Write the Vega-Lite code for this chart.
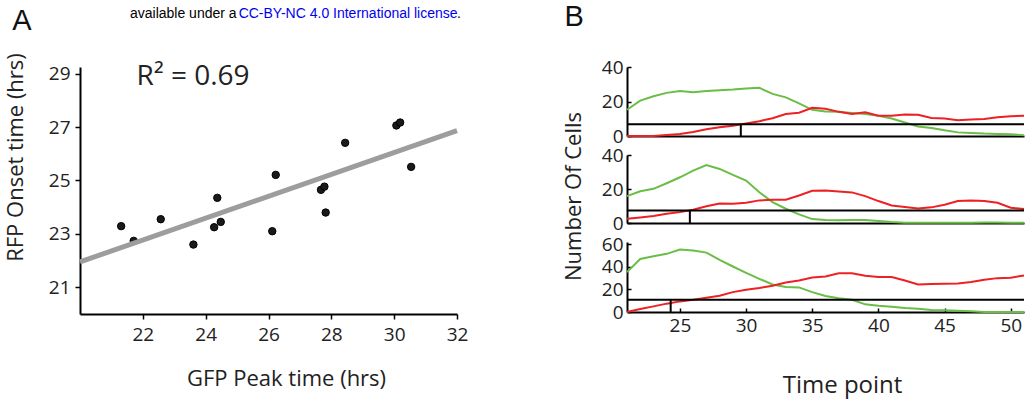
{
  "$schema": "https://vega.github.io/schema/vega-lite/v6.json",
  "autosize": {"type": "none"},
  "padding": {"left": 80, "top": 67, "right": 953, "bottom": 338},
  "background": "white",
  "config": {
    "font": "Open Sans",
    "view": {"stroke": null},
    "axis": {
      "grid": false,
      "domainColor": "#000000",
      "domainWidth": 2,
      "tickColor": "#000000",
      "tickWidth": 1.5,
      "labelColor": "#222222",
      "labelFontSize": 19,
      "labelFont": "Open Sans",
      "titleFont": "Open Sans",
      "titleColor": "#222222",
      "titleFontWeight": "normal",
      "titleFontSize": 22,
      "labelFlush": false,
      "labelOverlap": false
    }
  },
  "datasets": {
    "scatter": [
      {"gfp": 21.31, "rfp": 23.29}, {"gfp": 21.71, "rfp": 22.74}, {"gfp": 22.57, "rfp": 23.55},
      {"gfp": 23.61, "rfp": 22.60}, {"gfp": 24.27, "rfp": 23.25}, {"gfp": 24.37, "rfp": 24.35},
      {"gfp": 24.48, "rfp": 23.45}, {"gfp": 26.12, "rfp": 23.10}, {"gfp": 26.23, "rfp": 25.21},
      {"gfp": 27.67, "rfp": 24.65}, {"gfp": 27.78, "rfp": 24.77}, {"gfp": 27.82, "rfp": 23.80},
      {"gfp": 28.44, "rfp": 26.41}, {"gfp": 30.07, "rfp": 27.06}, {"gfp": 30.19, "rfp": 27.17},
      {"gfp": 30.54, "rfp": 25.51}
    ],
    "fit": [{"gfp": 20, "rfp": 21.95}, {"gfp": 32, "rfp": 26.87}],
    "p1": [
      {"t": 21, "gfp": 15.2, "rfp": 0}, {"t": 22, "gfp": 20.5, "rfp": 0}, {"t": 23, "gfp": 23, "rfp": 0},
      {"t": 24, "gfp": 25, "rfp": 0.6}, {"t": 25, "gfp": 26.1, "rfp": 1.2}, {"t": 26, "gfp": 25.4, "rfp": 2.3},
      {"t": 27, "gfp": 26.1, "rfp": 3.9}, {"t": 28, "gfp": 26.5, "rfp": 5.1}, {"t": 29, "gfp": 26.9, "rfp": 5.9},
      {"t": 30, "gfp": 27.5, "rfp": 7.2}, {"t": 31, "gfp": 27.9, "rfp": 8.6}, {"t": 32, "gfp": 24.4, "rfp": 10.3},
      {"t": 33, "gfp": 22.4, "rfp": 12.7}, {"t": 34, "gfp": 18.9, "rfp": 13.5}, {"t": 35, "gfp": 15.2, "rfp": 16.4},
      {"t": 36, "gfp": 14.2, "rfp": 15.8}, {"t": 37, "gfp": 14, "rfp": 14}, {"t": 38, "gfp": 13.3, "rfp": 12.7},
      {"t": 39, "gfp": 12.7, "rfp": 13.7}, {"t": 40, "gfp": 11.7, "rfp": 11.7}, {"t": 41, "gfp": 10.1, "rfp": 11.7},
      {"t": 42, "gfp": 7.8, "rfp": 12.5}, {"t": 43, "gfp": 5.5, "rfp": 12.3}, {"t": 44, "gfp": 4.7, "rfp": 10.5},
      {"t": 45, "gfp": 3.3, "rfp": 10.1}, {"t": 46, "gfp": 2.1, "rfp": 9.2}, {"t": 47, "gfp": 1.8, "rfp": 9.6},
      {"t": 48, "gfp": 1.4, "rfp": 9.8}, {"t": 49, "gfp": 1.2, "rfp": 10.9}, {"t": 50, "gfp": 1.0, "rfp": 11.5},
      {"t": 51, "gfp": 0.4, "rfp": 11.7}
    ],
    "p2": [
      {"t": 21, "gfp": 15.8, "rfp": 2.5}, {"t": 22, "gfp": 18.7, "rfp": 3.3}, {"t": 23, "gfp": 20.1, "rfp": 4.1},
      {"t": 24, "gfp": 23.4, "rfp": 5.5}, {"t": 25, "gfp": 26.9, "rfp": 6.4}, {"t": 26, "gfp": 30.8, "rfp": 7.8},
      {"t": 27, "gfp": 34.1, "rfp": 9.8}, {"t": 28, "gfp": 31.8, "rfp": 11.5}, {"t": 29, "gfp": 28.3, "rfp": 11.3},
      {"t": 30, "gfp": 25, "rfp": 11.9}, {"t": 31, "gfp": 18.1, "rfp": 13.3}, {"t": 32, "gfp": 12.3, "rfp": 13.7},
      {"t": 33, "gfp": 8.4, "rfp": 13.7}, {"t": 34, "gfp": 5.1, "rfp": 16.2}, {"t": 35, "gfp": 2.3, "rfp": 18.9},
      {"t": 36, "gfp": 1.8, "rfp": 19.1}, {"t": 37, "gfp": 1.6, "rfp": 18.5}, {"t": 38, "gfp": 1.8, "rfp": 18},
      {"t": 39, "gfp": 1.8, "rfp": 15.8}, {"t": 40, "gfp": 1.2, "rfp": 12.9}, {"t": 41, "gfp": 0.6, "rfp": 10.3},
      {"t": 42, "gfp": 0.2, "rfp": 9.4}, {"t": 43, "gfp": 0.2, "rfp": 8.6}, {"t": 44, "gfp": 0.2, "rfp": 9.2},
      {"t": 45, "gfp": 0.2, "rfp": 10.7}, {"t": 46, "gfp": 0.2, "rfp": 12.9}, {"t": 47, "gfp": 0.2, "rfp": 13.3},
      {"t": 48, "gfp": 0.3, "rfp": 12.9}, {"t": 49, "gfp": 0.3, "rfp": 11.9}, {"t": 50, "gfp": 0.2, "rfp": 9},
      {"t": 51, "gfp": 0.2, "rfp": 8.2}
    ],
    "p3": [
      {"t": 21, "gfp": 35.3, "rfp": 0}, {"t": 22, "gfp": 47, "rfp": 2.6}, {"t": 23, "gfp": 49.4, "rfp": 5},
      {"t": 24, "gfp": 51.5, "rfp": 7.4}, {"t": 25, "gfp": 55.3, "rfp": 9.4}, {"t": 26, "gfp": 54.4, "rfp": 10.9},
      {"t": 27, "gfp": 52.6, "rfp": 12.6}, {"t": 28, "gfp": 46.2, "rfp": 14.4}, {"t": 29, "gfp": 40.3, "rfp": 17.6},
      {"t": 30, "gfp": 34.7, "rfp": 19.7}, {"t": 31, "gfp": 29.4, "rfp": 21.2}, {"t": 32, "gfp": 24.4, "rfp": 23.2},
      {"t": 33, "gfp": 22.1, "rfp": 26.2}, {"t": 34, "gfp": 21.8, "rfp": 27.9}, {"t": 35, "gfp": 17.6, "rfp": 30.6},
      {"t": 36, "gfp": 14.1, "rfp": 31.5}, {"t": 37, "gfp": 12.1, "rfp": 34.4}, {"t": 38, "gfp": 10.9, "rfp": 34.4},
      {"t": 39, "gfp": 6.8, "rfp": 32.1}, {"t": 40, "gfp": 5.6, "rfp": 30.9}, {"t": 41, "gfp": 4.7, "rfp": 30.9},
      {"t": 42, "gfp": 3.5, "rfp": 27.9}, {"t": 43, "gfp": 2.9, "rfp": 24.4}, {"t": 44, "gfp": 1.8, "rfp": 24.7},
      {"t": 45, "gfp": 1.5, "rfp": 25}, {"t": 46, "gfp": 1.2, "rfp": 25.3}, {"t": 47, "gfp": 0.6, "rfp": 26.5},
      {"t": 48, "gfp": 0, "rfp": 28.5}, {"t": 49, "gfp": 0, "rfp": 30}, {"t": 50, "gfp": 0, "rfp": 30.3},
      {"t": 51, "gfp": 0, "rfp": 32.4}
    ],
    "th1": [{"thr": 6.8, "cross": 29.6}],
    "th2": [{"thr": 7.4, "cross": 25.75}],
    "th3": [{"thr": 10.9, "cross": 24.3}]
  },
  "bounds": "flush",
  "spacing": 170,
  "hconcat": [
    {
      "width": 377,
      "height": 247,
      "layer": [
        {
          "data": {"name": "scatter"},
          "mark": {"type": "point", "filled": true, "color": "#1a1a1a", "size": 55, "opacity": 1, "stroke": "#000000", "strokeWidth": 1},
          "encoding": {
            "x": {"field": "gfp", "type": "quantitative", "scale": {"domain": [20, 32], "nice": false, "zero": false},
              "axis": {"values": [22, 24, 26, 28, 30, 32], "tickCount": 20, "format": "d", "tickSize": 5, "labelPadding": 6, "title": "GFP Peak time (hrs)", "titleX": 206, "titleY": 64, "titleBaseline": "middle", "titleAlign": "center"}},
            "y": {"field": "rfp", "type": "quantitative", "scale": {"domain": [20, 29.25], "nice": false, "zero": false},
              "axis": {"values": [21, 23, 25, 27, 29], "tickCount": 20, "format": "d", "tickSize": 5, "labelPadding": 5, "title": "RFP Onset time (hrs)", "titleX": -65, "titleY": 90, "titleBaseline": "middle", "titleAlign": "center", "titleAngle": -90}}
          }
        },
        {
          "data": {"name": "fit"},
          "mark": {"type": "line", "color": "#9d9d9d", "strokeWidth": 5},
          "encoding": {
            "x": {"field": "gfp", "type": "quantitative"},
            "y": {"field": "rfp", "type": "quantitative"}
          }
        },
        {
          "data": {"values": [{"label": "R² = 0.69", "gfp": 23.6, "rfp": 28.86}]},
          "mark": {"type": "text", "fontSize": 28, "font": "Open Sans", "color": "#222222", "align": "center", "baseline": "middle"},
          "encoding": {
            "x": {"field": "gfp", "type": "quantitative"},
            "y": {"field": "rfp", "type": "quantitative"},
            "text": {"field": "label"}
          }
        },
        {
          "data": {"values": [{}]},
          "mark": {"type": "text", "text": "A", "fontSize": 29, "font": "Liberation Sans", "color": "#111111", "align": "center", "baseline": "middle"},
          "encoding": {
            "x": {"datum": 18.15, "type": "quantitative"},
            "y": {"datum": 30.96, "type": "quantitative"}
          }
        },
        {
          "data": {"values": [{}]},
          "mark": {"type": "text", "text": "available under a", "fontSize": 14, "font": "Liberation Sans", "color": "#000000", "align": "left", "baseline": "middle"},
          "encoding": {
            "x": {"datum": 21.59, "type": "quantitative"},
            "y": {"datum": 31.22, "type": "quantitative"}
          }
        },
        {
          "data": {"values": [{}]},
          "mark": {"type": "text", "text": "CC-BY-NC 4.0 International license", "fontSize": 14, "font": "Liberation Sans", "color": "#0000ee", "align": "left", "baseline": "middle"},
          "encoding": {
            "x": {"datum": 25.05, "type": "quantitative"},
            "y": {"datum": 31.22, "type": "quantitative"}
          }
        },
        {
          "data": {"values": [{}]},
          "mark": {"type": "text", "text": ".", "fontSize": 14, "font": "Liberation Sans", "color": "#000000", "align": "left", "baseline": "middle"},
          "encoding": {
            "x": {"datum": 32.0, "type": "quantitative"},
            "y": {"datum": 31.22, "type": "quantitative"}
          }
        }
      ]
    },
    {
      "bounds": "flush",
      "spacing": 19,
      "vconcat": [
        {
          "width": 397,
          "height": 69,
          "layer": [
            {
              "data": {"name": "p1"},
              "mark": {"type": "line", "color": "#6abd45", "strokeWidth": 2},
              "encoding": {
                "x": {"field": "t", "type": "quantitative", "scale": {"domain": [21, 51], "nice": false, "zero": false},
                  "axis": {"labels": false, "ticks": false, "title": null}},
                "y": {"field": "gfp", "type": "quantitative", "scale": {"domain": [0, 40], "nice": false},
                  "axis": {"values": [0, 20, 40], "tickCount": 20, "format": "d", "tickSize": -4, "labelPadding": 8, "labelOverlap": false, "labelBound": false, "labelFlush": false, "title": null}}
              }
            },
            {
              "data": {"name": "p1"},
              "mark": {"type": "line", "color": "#ed2024", "strokeWidth": 2},
              "encoding": {
                "x": {"field": "t", "type": "quantitative"},
                "y": {"field": "rfp", "type": "quantitative"}
              }
            },
            {
              "data": {"name": "th1"},
              "mark": {"type": "rule", "color": "#000000", "strokeWidth": 2},
              "encoding": {"y": {"field": "thr", "type": "quantitative"}}
            },
            {
              "data": {"name": "th1"},
              "mark": {"type": "rule", "color": "#000000", "strokeWidth": 2},
              "encoding": {
                "x": {"field": "cross", "type": "quantitative"},
                "y": {"field": "thr", "type": "quantitative"},
                "y2": {"datum": 0}
              }
            },
            {
              "data": {"values": [{}]},
              "mark": {"type": "text", "text": "B", "fontSize": 29, "font": "Liberation Sans", "color": "#111111", "align": "center", "baseline": "middle"},
              "encoding": {
                "x": {"datum": 17.0, "type": "quantitative"},
                "y": {"datum": 68.8, "type": "quantitative"}
              }
            }
          ]
        },
        {
          "width": 397,
          "height": 68,
          "layer": [
            {
              "data": {"name": "p2"},
              "mark": {"type": "line", "color": "#6abd45", "strokeWidth": 2},
              "encoding": {
                "x": {"field": "t", "type": "quantitative", "scale": {"domain": [21, 51], "nice": false, "zero": false},
                  "axis": {"labels": false, "ticks": false, "title": null}},
                "y": {"field": "gfp", "type": "quantitative", "scale": {"domain": [0, 40], "nice": false},
                  "axis": {"values": [0, 20, 40], "tickCount": 20, "format": "d", "tickSize": -4, "labelPadding": 8, "labelOverlap": false, "labelBound": false, "labelFlush": false, "title": "Number Of Cells", "titleFontSize": 22, "titleX": -54, "titleY": 41, "titleBaseline": "middle", "titleAlign": "center", "titleAngle": -90}}
              }
            },
            {
              "data": {"name": "p2"},
              "mark": {"type": "line", "color": "#ed2024", "strokeWidth": 2},
              "encoding": {
                "x": {"field": "t", "type": "quantitative"},
                "y": {"field": "rfp", "type": "quantitative"}
              }
            },
            {
              "data": {"name": "th2"},
              "mark": {"type": "rule", "color": "#000000", "strokeWidth": 2},
              "encoding": {"y": {"field": "thr", "type": "quantitative"}}
            },
            {
              "data": {"name": "th2"},
              "mark": {"type": "rule", "color": "#000000", "strokeWidth": 2},
              "encoding": {
                "x": {"field": "cross", "type": "quantitative"},
                "y": {"field": "thr", "type": "quantitative"},
                "y2": {"datum": 0}
              }
            }
          ]
        },
        {
          "width": 397,
          "height": 70,
          "layer": [
            {
              "data": {"name": "p3"},
              "mark": {"type": "line", "color": "#6abd45", "strokeWidth": 2},
              "encoding": {
                "x": {"field": "t", "type": "quantitative", "scale": {"domain": [21, 51], "nice": false, "zero": false},
                  "axis": {"values": [25, 30, 35, 40, 45, 50], "tickCount": 20, "format": "d", "tickSize": -4, "labelPadding": 8, "title": "Time point", "titleFontSize": 24, "titleX": 215, "titleY": 73, "titleBaseline": "middle", "titleAlign": "center"}},
                "y": {"field": "gfp", "type": "quantitative", "scale": {"domain": [0, 62], "nice": false},
                  "axis": {"values": [0, 20, 40, 60], "tickCount": 20, "format": "d", "tickSize": -4, "labelPadding": 8, "labelOverlap": false, "labelBound": false, "labelFlush": false, "title": null}}
              }
            },
            {
              "data": {"name": "p3"},
              "mark": {"type": "line", "color": "#ed2024", "strokeWidth": 2},
              "encoding": {
                "x": {"field": "t", "type": "quantitative"},
                "y": {"field": "rfp", "type": "quantitative"}
              }
            },
            {
              "data": {"name": "th3"},
              "mark": {"type": "rule", "color": "#000000", "strokeWidth": 2},
              "encoding": {"y": {"field": "thr", "type": "quantitative"}}
            },
            {
              "data": {"name": "th3"},
              "mark": {"type": "rule", "color": "#000000", "strokeWidth": 2},
              "encoding": {
                "x": {"field": "cross", "type": "quantitative"},
                "y": {"field": "thr", "type": "quantitative"},
                "y2": {"datum": 0}
              }
            }
          ]
        }
      ]
    }
  ]
}
